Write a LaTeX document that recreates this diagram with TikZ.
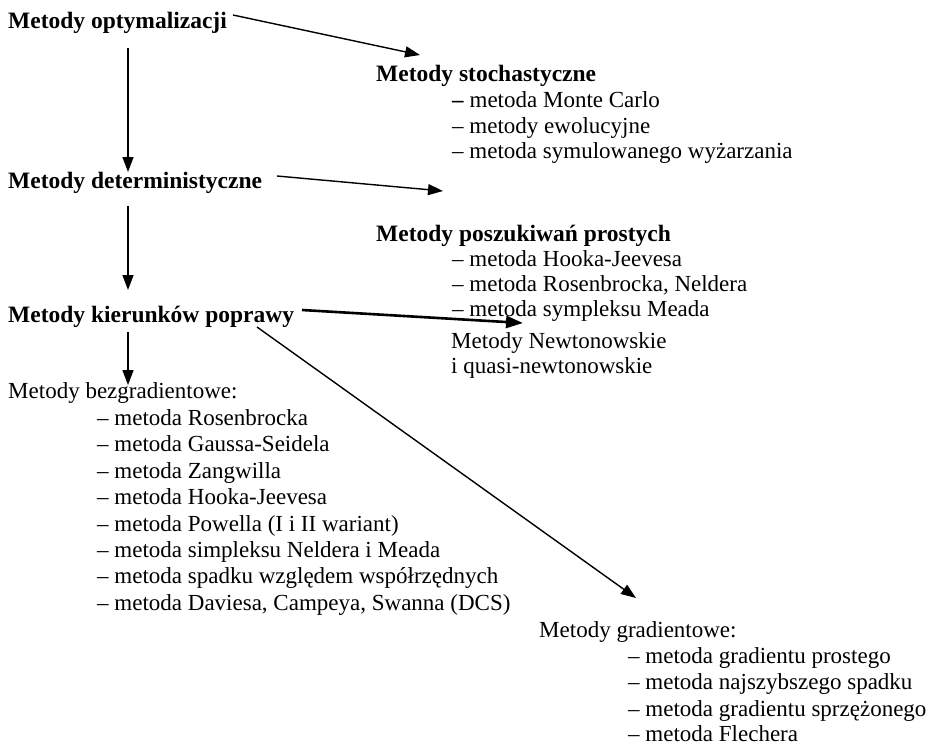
\documentclass[tikz,border=0pt]{standalone}
\usepackage{fontspec}
\setmainfont{Liberation Serif}
\usetikzlibrary{arrows.meta}
\begin{document}
\begin{tikzpicture}[x=1pt,y=-1pt,
  txt/.style={anchor=base west,inner sep=0pt,font=\fontsize{23}{27}\selectfont},
  hb/.style={txt,font=\fontsize{23.5}{27}\selectfont\bfseries},
  arr/.style={line width=1.4pt,-{Triangle[length=15pt,width=11pt]}},
  arrthick/.style={line width=2.6pt,-{Triangle[length=17pt,width=12pt]}}]
\useasboundingbox (0,0) rectangle (937,745);
% headings
\node[hb] (opt) at (8,28) {Metody optymalizacji};
\node[hb] (stoch) at (376,81) {Metody stochastyczne};
\node[txt] (s1) at (452,107) {\textbf{–} metoda Monte Carlo};
\node[txt] (s2) at (452,133) {– metody ewolucyjne};
\node[txt] (s3) at (452,158) {– metoda symulowanego wyżarzania};
\node[hb] (det) at (8,188) {Metody deterministyczne};
\node[hb] (posz) at (376,241) {Metody poszukiwań prostych};
\node[txt] (p1) at (452,266) {– metoda Hooka-Jeevesa};
\node[txt] (p2) at (452,291) {– metoda Rosenbrocka, Neldera};
\node[txt] (p3) at (452,316) {– metoda sympleksu Meada};
\node[hb] (kier) at (8,322) {Metody kierunków poprawy};
\node[txt] (newt) at (451,348) {Metody Newtonowskie};
\node[txt] (newt2) at (451,373) {i quasi-newtonowskie};
\node[txt] (bez) at (8,398) {Metody bezgradientowe:};
\node[txt] (b1) at (97,425) {– metoda Rosenbrocka};
\node[txt] (b2) at (97,451) {– metoda Gaussa-Seidela};
\node[txt] (b3) at (97,478) {– metoda Zangwilla};
\node[txt] (b4) at (97,504) {– metoda Hooka-Jeevesa};
\node[txt] (b5) at (97,531) {– metoda Powella (I i II wariant)};
\node[txt] (b6) at (97,557) {– metoda simpleksu Neldera i Meada};
\node[txt] (b7) at (97,583) {– metoda spadku względem współrzędnych};
\node[txt] (b8) at (97,610) {– metoda Daviesa, Campeya, Swanna (DCS)};
\node[txt] (grad) at (539,637) {Metody gradientowe:};
\node[txt] (g1) at (628,663) {– metoda gradientu prostego};
\node[txt] (g2) at (628,689) {– metoda najszybszego spadku};
\node[txt] (g3) at (628,716) {– metoda gradientu sprzężonego};
\node[txt] (g4) at (628,741) {– metoda Flechera};
% arrow end points
\coordinate (a1s) at (233,15);  \coordinate (a1e) at (420,55);
\coordinate (a2s) at (128,48);  \coordinate (a2e) at (128,172);
\coordinate (a3s) at (277,176); \coordinate (a3e) at (443,191);
\coordinate (a4s) at (128,206); \coordinate (a4e) at (128,290);
\coordinate (a5s) at (302,310); \coordinate (a5e) at (523,323);
\coordinate (a6s) at (128,332); \coordinate (a6e) at (128,385);
\coordinate (a7s) at (257,327); \coordinate (a7e) at (636,598);
\draw[arr] (a1s) -- (a1e);
\draw[arr] (a2s) -- (a2e);
\draw[arr] (a3s) -- (a3e);
\draw[arr] (a4s) -- (a4e);
\draw[arrthick] (a5s) -- (a5e);
\draw[arr] (a6s) -- (a6e);
\draw[arr] (a7s) -- (a7e);
\end{tikzpicture}
\end{document}
